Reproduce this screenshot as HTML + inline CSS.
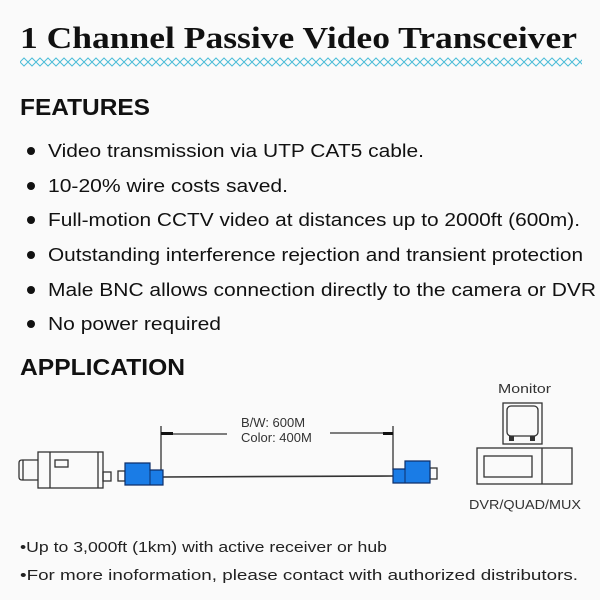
<!DOCTYPE html>
<html><head><meta charset="utf-8"><style>
html,body{margin:0;padding:0;background:#fafafa;}
svg{display:block}
</style></head><body>
<svg width="600" height="600" viewBox="0 0 600 600" xmlns="http://www.w3.org/2000/svg">
<defs>
<pattern id="zz" x="20" y="57" width="8" height="10" patternUnits="userSpaceOnUse">
<path d="M0,5 L4,1 L8,5 L4,9 Z" fill="none" stroke="#4bbcd8" stroke-width="1"/>
</pattern>
</defs>
<rect width="600" height="600" fill="#fafafa"/>
<text x="20" y="48" font-family="Liberation Serif, serif" font-weight="bold" font-size="31" fill="#111" textLength="557" lengthAdjust="spacingAndGlyphs">1 Channel Passive Video Transceiver</text>
<rect x="20" y="57" width="562" height="10" fill="url(#zz)"/>
<g font-family="Liberation Sans, sans-serif" fill="#111">
<text x="20" y="115" font-size="23" font-weight="bold" textLength="130" lengthAdjust="spacingAndGlyphs">FEATURES</text>
<g font-size="18">
<circle cx="31" cy="151" r="4"/><text x="48" y="157" textLength="376" lengthAdjust="spacingAndGlyphs">Video transmission via UTP CAT5 cable.</text>
<circle cx="31" cy="186" r="4"/><text x="48" y="192" textLength="240" lengthAdjust="spacingAndGlyphs">10-20% wire costs saved.</text>
<circle cx="31" cy="220" r="4"/><text x="48" y="226" textLength="532" lengthAdjust="spacingAndGlyphs">Full-motion CCTV video at distances up to 2000ft (600m).</text>
<circle cx="31" cy="255" r="4"/><text x="48" y="261" textLength="535" lengthAdjust="spacingAndGlyphs">Outstanding interference rejection and transient protection</text>
<circle cx="31" cy="290" r="4"/><text x="48" y="296" textLength="548" lengthAdjust="spacingAndGlyphs">Male BNC allows connection directly to the camera or DVR</text>
<circle cx="31" cy="324" r="4"/><text x="48" y="330" textLength="173" lengthAdjust="spacingAndGlyphs">No power required</text>
</g>
<text x="20" y="375" font-size="23" font-weight="bold" textLength="165" lengthAdjust="spacingAndGlyphs">APPLICATION</text>
<g font-size="13" fill="#333">
<text x="241" y="427">B/W:  600M</text>
<text x="241" y="442">Color: 400M</text>
<text x="498" y="393" textLength="53" lengthAdjust="spacingAndGlyphs">Monitor</text>
<text x="469" y="509" textLength="112" lengthAdjust="spacingAndGlyphs">DVR/QUAD/MUX</text>
</g>
<g font-size="15" fill="#222">
<text x="20" y="552" textLength="367" lengthAdjust="spacingAndGlyphs">•Up to 3,000ft (1km) with active receiver or hub</text>
<text x="20" y="580" textLength="558" lengthAdjust="spacingAndGlyphs">•For more inoformation, please contact with authorized distributors.</text>
</g>
</g>
<g fill="none" stroke="#333" stroke-width="1.3">
<path d="M38,460 H22 Q19,460 19,463 V477 Q19,480 22,480 H38"/>
<line x1="23" y1="460" x2="23" y2="480"/>
<rect x="38" y="452" width="65" height="36"/>
<line x1="50" y1="452" x2="50" y2="488"/>
<line x1="98" y1="452" x2="98" y2="488"/>
<rect x="55" y="460" width="13" height="7"/>
<rect x="103" y="472" width="8" height="9"/>
<rect x="118" y="471" width="7" height="10"/>
<rect x="430" y="468" width="7" height="11"/>
<line x1="161" y1="426" x2="161" y2="476"/>
<line x1="393" y1="426" x2="393" y2="470"/>
<line x1="161" y1="434" x2="227" y2="434"/>
<line x1="330" y1="433" x2="393" y2="433"/>
<line x1="163" y1="477" x2="394" y2="476" stroke-width="1.6"/>
<rect x="503" y="403" width="39" height="41"/>
<rect x="507" y="406" width="31" height="30" rx="4"/>
<rect x="477" y="448" width="95" height="36"/>
<rect x="484" y="456" width="48" height="21"/>
<line x1="542" y1="448" x2="542" y2="484"/>
</g>
<rect x="161" y="432" width="12" height="3" fill="#111"/>
<rect x="383" y="432" width="10" height="3" fill="#111"/>
<rect x="509" y="436" width="5" height="5" fill="#333"/>
<rect x="530" y="436" width="5" height="5" fill="#333"/>
<path d="M125,463 H150 V470 H163 V485 H125 Z" fill="#1a7ce6" stroke="#0d2f6a" stroke-width="1.2"/>
<path d="M150,470 V485" stroke="#0d2f6a" stroke-width="1"/>
<path d="M405,461 H430 V483 H393 V469 H405 Z" fill="#1a7ce6" stroke="#0d2f6a" stroke-width="1.2"/>
<path d="M405,469 V483" stroke="#0d2f6a" stroke-width="1"/>
</svg>
</body></html>
